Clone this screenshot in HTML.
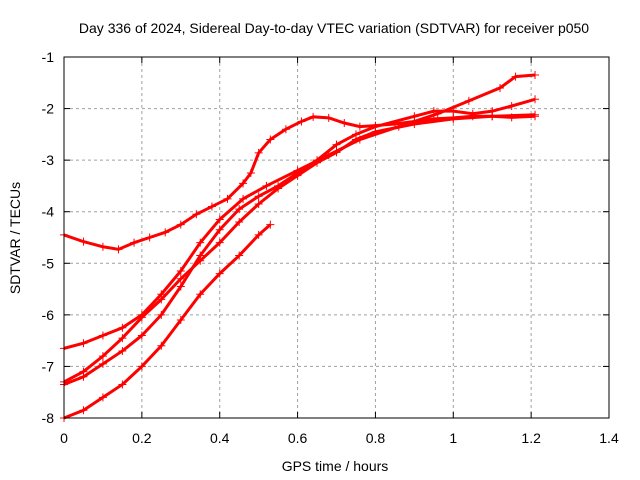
<!DOCTYPE html>
<html><head><meta charset="utf-8"><style>
body{margin:0;background:#fff;}
svg{display:block;font-family:"Liberation Sans",sans-serif;}
</style></head><body>
<svg id="chart" width="640" height="480" viewBox="0 0 640 480">
<text x="334" y="33" font-size="14" text-anchor="middle">Day 336 of 2024, Sidereal Day-to-day VTEC variation (SDTVAR) for receiver p050</text>
<text x="335" y="471" font-size="14" text-anchor="middle">GPS time / hours</text>
<text x="20" y="238" font-size="14" text-anchor="middle" transform="rotate(-90 20 238)">SDTVAR / TECUs</text>
<g id="grid"></g><g id="axes"></g><g id="series"></g>
<rect x="64" y="57" width="545" height="361" fill="none" stroke="#000" stroke-width="1"/>
</svg>
<script>
const xTicks=[0,0.2,0.4,0.6,0.8,1,1.2,1.4];
const xTickLabels=["0","0.2","0.4","0.6","0.8","1","1.2","1.4"];
const yTicks=[-1,-2,-3,-4,-5,-6,-7,-8];
const yTickLabels=["-1","-2","-3","-4","-5","-6","-7","-8"];
const s1x=[0,0.05,0.1,0.14,0.18,0.22,0.26,0.3,0.34,0.38,0.42,0.46,0.48,0.5,0.53,0.57,0.61,0.64,0.68,0.72,0.76,0.8,0.85,0.9,0.95,1.0,1.05,1.1,1.15,1.21];
const s1y=[-4.45,-4.58,-4.68,-4.73,-4.6,-4.5,-4.4,-4.25,-4.05,-3.9,-3.75,-3.45,-3.25,-2.86,-2.6,-2.4,-2.25,-2.16,-2.18,-2.28,-2.35,-2.33,-2.3,-2.25,-2.2,-2.18,-2.15,-2.15,-2.17,-2.15];
const s2x=[0,0.05,0.1,0.15,0.2,0.25,0.3,0.35,0.4,0.46,0.52,0.6,0.68,0.76,0.86,0.96,1.04,1.12,1.16,1.21];
const s2y=[-6.65,-6.55,-6.4,-6.25,-6.0,-5.6,-5.15,-4.6,-4.15,-3.75,-3.5,-3.2,-2.9,-2.6,-2.35,-2.1,-1.85,-1.6,-1.38,-1.35];
const s3x=[0,0.05,0.1,0.15,0.2,0.25,0.3,0.35,0.4,0.45,0.5,0.55,0.6,0.65,0.7,0.75,0.8,0.9,1.0,1.1,1.21];
const s3y=[-7.3,-7.1,-6.8,-6.45,-6.05,-5.7,-5.3,-4.95,-4.6,-4.2,-3.85,-3.55,-3.3,-3.05,-2.85,-2.6,-2.45,-2.3,-2.2,-2.15,-2.12];
const s4x=[0,0.05,0.1,0.15,0.2,0.25,0.3,0.35,0.4,0.45,0.5,0.55,0.6,0.65,0.7,0.75,0.8,0.9,0.95,1.0,1.05,1.1,1.15,1.21];
const s4y=[-7.35,-7.2,-6.95,-6.7,-6.4,-6.0,-5.45,-4.85,-4.35,-3.95,-3.7,-3.5,-3.25,-3.0,-2.7,-2.5,-2.35,-2.15,-2.05,-2.05,-2.1,-2.05,-1.95,-1.82];
const s5x=[0,0.05,0.1,0.15,0.2,0.25,0.3,0.35,0.4,0.45,0.5,0.53];
const s5y=[-8.0,-7.85,-7.6,-7.35,-7.0,-6.6,-6.1,-5.6,-5.2,-4.85,-4.45,-4.25];
const NS="http://www.w3.org/2000/svg";
const X=v=>64+v*(545/1.4);
const Y=v=>57+(-1-v)*(361/7);
function mk(t,a,p){const e=document.createElementNS(NS,t);for(const k in a)e.setAttribute(k,a[k]);p.appendChild(e);return e;}
const grid=document.getElementById('grid'),axes=document.getElementById('axes'),ser=document.getElementById('series');
xTicks.forEach((v,i)=>{
  if(i>0&&i<xTicks.length-1){const g=mk('line',{x1:X(v),x2:X(v),y1:57,y2:418,stroke:'#a0a0a0','stroke-dasharray':'3,3'},grid);
  
  }
  mk('line',{x1:X(v),x2:X(v),y1:418,y2:412,stroke:'#000'},axes);
  mk('line',{x1:X(v),x2:X(v),y1:57,y2:63,stroke:'#000'},axes);
  const t=mk('text',{x:X(v),y:443,'font-size':14,'text-anchor':'middle'},axes);t.textContent=xTickLabels[i];
  
  
});
yTicks.forEach((v,i)=>{
  if(i>0&&i<yTicks.length-1){const g=mk('line',{x1:64,x2:609,y1:Y(v),y2:Y(v),stroke:'#a0a0a0','stroke-dasharray':'3,3'},grid);
  
  }
  mk('line',{x1:64,x2:70,y1:Y(v),y2:Y(v),stroke:'#000'},axes);
  mk('line',{x1:609,x2:603,y1:Y(v),y2:Y(v),stroke:'#000'},axes);
  const t=mk('text',{x:54,y:Y(v)+5,'font-size':14,'text-anchor':'end'},axes);t.textContent=yTickLabels[i];
  
  
});
[[s1x,s1y],[s2x,s2y],[s3x,s3y],[s4x,s4y],[s5x,s5y]].forEach((s,k)=>{
  const g=mk('g',{},ser);
  
  
  const pts=s[0].map((v,i)=>X(v)+','+Y(s[1][i])).join(' ');
  mk('polyline',{points:pts,fill:'none',stroke:'#f00','stroke-width':3},g);
  let d='';
  s[0].forEach((v,i)=>{const x=X(v),y=Y(s[1][i]);d+=`M${x-4},${y}H${x+4}M${x},${y-4}V${y+4}`;});
  mk('path',{d:d,stroke:'#f00','stroke-width':1,fill:'none'},g);
});
</script>
</body></html>
